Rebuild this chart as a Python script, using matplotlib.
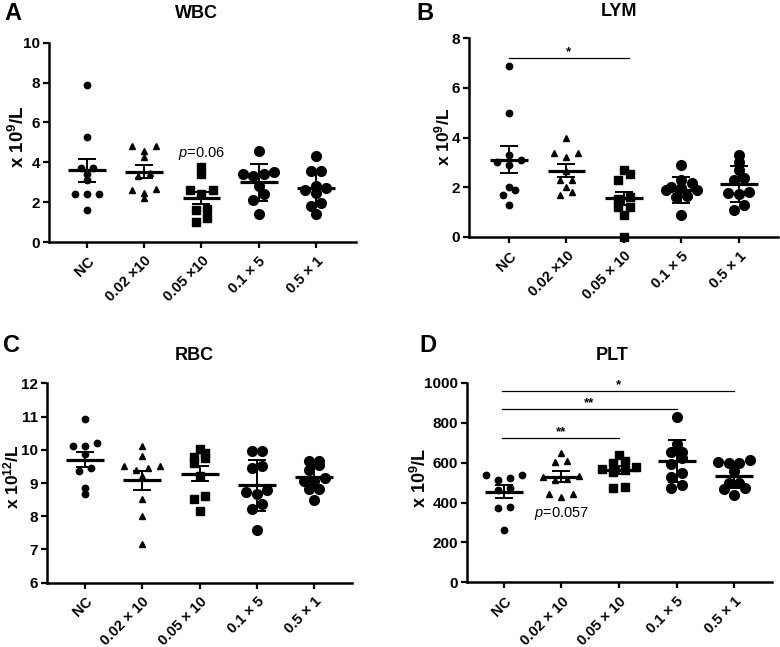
import matplotlib
matplotlib.use("Agg")
import matplotlib.pyplot as plt
import numpy as np

plt.rcParams["font.family"] = ["Liberation Sans", "DejaVu Sans"]
plt.rcParams["font.weight"] = "bold"
plt.rcParams["mathtext.fontset"] = "custom"
plt.rcParams["mathtext.rm"] = "Liberation Sans"
plt.rcParams["mathtext.it"] = "Liberation Sans:slant=italic:weight=normal"
plt.rcParams["mathtext.bf"] = "Liberation Sans:weight=bold"

# ── Data ──────────────────────────────────────────────────────────────────────
labels_a = ["NC", "0.02 \u00d710", "0.05 \u00d710", "0.1 \u00d7 5", "0.5 \u00d7 1"]
labels_b = ["NC", "0.02 \u00d710", "0.05 \u00d7 10", "0.1 \u00d7 5", "0.5 \u00d7 1"]
labels_cd = ["NC", "0.02 \u00d7 10", "0.05 \u00d7 10", "0.1 \u00d7 5", "0.5 \u00d7 1"]

wbc = [
    [7.90, 5.28, 3.73, 3.73, 3.42, 3.12, 2.41, 2.41, 2.41, 1.61],
    [4.82, 4.82, 4.58, 4.28, 3.48, 3.33, 2.66, 2.61, 2.47, 2.19],
    [3.75, 3.42, 2.62, 2.62, 2.40, 1.66, 1.62, 1.19, 1.02],
    [4.58, 3.50, 3.40, 3.40, 3.33, 2.81, 2.41, 2.11, 1.40],
    [4.31, 3.58, 3.58, 2.81, 2.73, 2.61, 2.44, 1.94, 1.81, 1.40],
]
wbc_mean = [3.60, 3.53, 2.21, 2.99, 2.70]
wbc_err = [0.57, 0.33, 0.28, 0.93, 0.89]

lym = [
    [6.89, 4.99, 3.29, 3.09, 3.00, 2.89, 2.00, 1.90, 1.68, 1.29],
    [4.00, 3.36, 3.36, 3.20, 2.65, 2.30, 2.30, 2.00, 1.79, 1.67],
    [2.70, 2.52, 2.30, 1.62, 1.52, 1.20, 1.20, 0.89, 0.00],
    [2.90, 2.28, 2.18, 2.00, 1.95, 1.90, 1.88, 1.65, 1.62, 0.90],
    [3.31, 3.01, 2.70, 2.37, 2.28, 1.81, 1.77, 1.73, 1.30, 1.10],
]
lym_mean = [3.10, 2.67, 1.55, 1.89, 2.13]
lym_err = [0.54, 0.25, 0.26, 0.52, 0.72]

rbc = [
    [10.92, 10.19, 10.11, 10.11, 9.86, 9.45, 9.35, 8.85, 8.67],
    [10.10, 9.82, 9.50, 9.50, 9.45, 9.40, 9.20, 8.51, 8.01, 7.16],
    [10.03, 9.91, 9.77, 9.75, 9.60, 9.20, 8.60, 8.53, 8.17],
    [9.95, 9.95, 9.52, 9.45, 8.78, 8.72, 8.68, 8.37, 8.21, 7.60],
    [9.65, 9.65, 9.55, 9.40, 9.15, 9.05, 9.05, 8.82, 8.82, 8.50],
]
rbc_mean = [9.70, 9.08, 9.28, 8.93, 9.18]
rbc_err = [0.22, 0.29, 0.23, 0.77, 0.38]

plt_vals = [
    [540, 540, 525, 515, 475, 465, 380, 372, 263],
    [651, 609, 606, 535, 528, 520, 515, 444, 444, 430],
    [640, 611, 600, 580, 570, 565, 555, 477, 472],
    [829, 693, 656, 653, 626, 593, 548, 526, 489, 475],
    [615, 606, 601, 598, 559, 500, 497, 472, 469, 439],
]
plt_mean = [455, 529, 563, 609, 534]
plt_err = [32, 28, 20, 107, 61]

# significance bars: (from group, to group, height, label)
lym_sig = [(0, 2.08, 7.2, "*")]
plt_sig = [(-0.03, 2, 724, "**"), (-0.03, 3, 869, "**"), (-0.03, 4, 961, "*")]

# ── Style ─────────────────────────────────────────────────────────────────────
W, H = 780, 647
MARKERS = ["o", "^", "s", "o", "o"]
MSIZE = [4.6, 4.9, 5.2, 7.0, 7.0]
ROW_PX = [5.5, 5.5, 5.5, 7.0, 7.0]
STEP_PX = [12.0, 12.0, 11.5, 10.5, 10.5]

fig = plt.figure(figsize=(W / 100, H / 100), dpi=100)


def px_axes(left, top, right, bottom):
    return fig.add_axes([left / W, 1 - bottom / H, (right - left) / W, (bottom - top) / H])


def swarm(vals, ppy, row_px):
    # group close values into rows, spread each row symmetrically
    vals = sorted(vals)
    rows, i = [], 0
    while i < len(vals):
        j = i + 1
        while j < len(vals) and (vals[j] - vals[i]) * ppy < row_px:
            j += 1
        rows.append(vals[i:j])
        i = j
    xs, ys = [], []
    for row in rows:
        n = len(row)
        if n % 2:
            slots = [0] + [s for k in range(1, n // 2 + 1) for s in (-k, k)]
        else:
            slots = [s for k in range(n // 2) for s in (-(k + 0.5), k + 0.5)]
        xs += slots
        ys += row
    return np.array(xs, float), np.array(ys, float)


def panel(rect, xlim, ylim, yticks, data, means, errs, labels, ylabel, ylabel_xy, ylabel_fs):
    ax = px_axes(*rect)
    ax.set_xlim(*xlim)
    ax.set_ylim(*ylim)
    wpx = rect[2] - rect[0]
    hpx = rect[3] - rect[1]
    ppx = wpx / (xlim[1] - xlim[0])
    ppy = hpx / (ylim[1] - ylim[0])
    for i, vals in enumerate(data):
        sx, sy = swarm(vals, ppy, ROW_PX[i])
        ax.plot(i + sx * STEP_PX[i] / ppx, sy, ls="none", marker=MARKERS[i],
                ms=MSIZE[i], color="black", clip_on=False, zorder=3)
    xs = np.arange(len(data))
    ax.hlines(means, xs - 0.33, xs + 0.33, color="black", lw=2.3, zorder=4)
    ax.errorbar(xs, means, yerr=errs, fmt="none", ecolor="black", elinewidth=1.4,
                capsize=6.2, capthick=1.4, zorder=4)
    for side in ["top", "right"]:
        ax.spines[side].set_visible(False)
    for side in ["left", "bottom"]:
        ax.spines[side].set_linewidth(1.8)
    ax.set_yticks(yticks)
    ax.set_xticks(xs)
    ax.set_xticklabels(labels, rotation=45, ha="right", rotation_mode="anchor")
    ax.tick_params(length=4.5, width=1.6, pad=2)
    ax.tick_params(axis="y", labelsize=11)
    ax.tick_params(axis="x", labelsize=10.5, pad=4)
    for lbl in ax.get_xticklabels() + ax.get_yticklabels():
        lbl.set_fontweight("bold")
    fig.text(ylabel_xy[0] / W, 1 - ylabel_xy[1] / H, ylabel, rotation=90,
             ha="center", va="center", fontsize=ylabel_fs, fontweight="bold")
    return ax


ax_a = panel((49, 42.7, 356, 242), (-0.664, 4.70), (0, 10), range(0, 11, 2),
             wbc, wbc_mean, wbc_err, labels_a, r"x 10$^{\mathbf{9}}$/L", (18, 137), 13.5)
ax_b = panel((469, 38, 778, 237), (-0.696, 4.68), (0, 8), range(0, 9, 2),
             lym, lym_mean, lym_err, labels_b, r"x 10$^{\mathbf{9}}$/L", (442, 137), 12.5)
ax_c = panel((47, 383.3, 352, 582.7), (-0.664, 4.66), (6, 12), range(6, 13),
             rbc, rbc_mean, rbc_err, labels_cd, r"x 10$^{\mathbf{12}}$/L", (11, 477), 12.5)
ax_d = panel((467, 383, 772, 582.3), (-0.643, 4.66), (0, 1000), range(0, 1001, 200),
             plt_vals, plt_mean, plt_err, labels_cd, r"x 10$^{\mathbf{9}}$/L", (420, 478), 13)

# p-value notes
ax_a.text(2, 4.45, r"$p$=0.06", ha="center", va="center", fontsize=10.5, fontweight="normal")
ax_d.text(1, 347, r"$p$=0.057", ha="center", va="center", fontsize=10.5, fontweight="normal")

# significance bars
for ax, sigs in [(ax_b, lym_sig), (ax_d, plt_sig)]:
    for x0, x1, y, star in sigs:
        ax.plot([x0, x1], [y, y], color="black", lw=0.9, clip_on=False)
        ax.text((x0 + x1) / 2, y, star, ha="center", va="bottom", fontsize=9.5)

# titles and panel letters (pixel centres)
for txt, x, y in [("WBC", 196, 14), ("LYM", 619, 11), ("RBC", 194, 356), ("PLT", 612, 356)]:
    fig.text(x / W, 1 - y / H, txt, ha="center", va="center", fontsize=13, fontweight="bold")
for txt, x, y in [("A", 13, 13), ("B", 425, 13), ("C", 12, 346), ("D", 428, 346)]:
    fig.text(x / W, 1 - y / H, txt, ha="center", va="center", fontsize=17, fontweight="bold")

fig.savefig("out.png", dpi=100)
